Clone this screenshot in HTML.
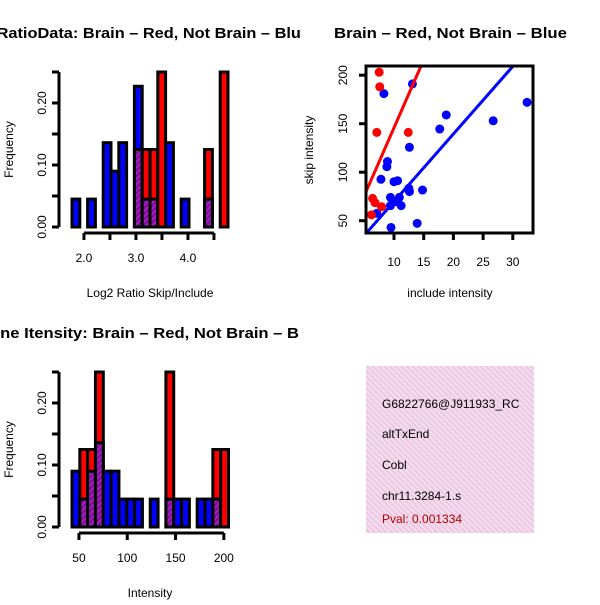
<!DOCTYPE html>
<html><head><meta charset="utf-8"><style>
body{margin:0;background:#fff}
svg text{font-family:"Liberation Sans",sans-serif}
</style></head><body>
<svg id="c" width="600" height="600" xmlns="http://www.w3.org/2000/svg">
<defs>
<pattern id="hatch" width="4" height="4" patternUnits="userSpaceOnUse" patternTransform="rotate(45)">
<rect width="4" height="4" fill="#a020c0"/><rect width="2" height="4" fill="#7a1090"/></pattern>
<pattern id="pink" width="4" height="4" patternUnits="userSpaceOnUse" patternTransform="rotate(-45)">
<rect width="4" height="4" fill="#f8d8f0"/><rect width="1.3" height="4" fill="#e0c8d8"/></pattern>
<clipPath id="left"><rect x="0" y="0" width="300" height="600"/></clipPath>
</defs>
<g id="g1"></g>
<g id="g2"></g>
<g id="g3"></g>
<g>
<rect x="366" y="366" width="168" height="167" fill="url(#pink)"/>
<svg x="366" y="366" width="168" height="167">
<text x="16" y="42" font-size="12">G6822766@J911933_RC</text>
<text x="16" y="72" font-size="12">altTxEnd</text>
<text x="16" y="103" font-size="12">Cobl</text>
<text x="16" y="134" font-size="12">chr11.3284-1.s</text>
<text x="16" y="157" font-size="12" fill="#b00000">Pval: 0.001334</text>
</svg></g>
</svg>
<script>
const NS="http://www.w3.org/2000/svg";
function mk(p,t,a){const e=document.createElementNS(NS,t);for(const k in a)e.setAttribute(k,a[k]);p.appendChild(e);return e;}

// histogram 1 data
const h1Start=1.77, h1Width=0.15;
const h1Blue=[0.045,0,0.045,0,0.136,0.09,0.136,0,0.227,0.045,0.045,0,0.136,0,0.045,0,0,0.045,0,0];
const h1Red =[0,0,0,0,0,0,0,0,0.125,0.125,0.125,0.25,0,0,0,0,0,0.125,0,0.25];
const h1XTicks=[2.0,2.5,3.0,3.5,4.0,4.5];
const h1XLabels=["2.0","","3.0","","4.0",""];
// histogram 3 data
const h3Start=42.8, h3Width=8.1;
const h3Blue=[0.09,0.045,0.09,0.136,0.09,0.09,0.045,0.045,0.045,0,0.045,0,0.045,0.045,0.045,0,0.045,0.045,0.045,0];
const h3Red =[0,0.125,0.125,0.25,0,0,0,0,0,0,0,0,0.25,0,0,0,0,0,0.125,0.125];
const h3XTicks=[50,100,150,200];
const h3XLabels=["50","100","150","200"];
const yTicks=[0,0.05,0.1,0.15,0.2,0.25];
const yLabels=["0.00","","0.10","","0.20",""];
// scatter data
const redX=[7.5,7.6,7.1,12.4,6.4,6.8,7.9,6.2];
const redY=[203,188,141,141,73,68.6,64.4,56];
const blueX=[8.3,13.1,32.4,26.7,18.8,17.7,12.6,8.9,8.8,7.8,10,10.6,12.6,14.8,12.5,9.4,10.9,10.3,11.2,9.4,7.1,13.9,9.5];
const blueY=[181,191,172,153,159,144.5,125.7,111,105.7,92.7,90.2,91.2,80,81.6,83.4,74,74,69.6,65.5,65.5,57.6,47.3,43];
const redFit=[5.8,14];   // intercept, slope
const blueFit=[0,6.97];
const sXTicks=[10,15,20,25,30];
const sYTicks=[50,100,150,200];

function hist(g,blue,red,start,w,x0,pxPerUnit,xt,xl,title,titleX,titleLen,xlab,xaxY,ty){
  const X=v=>x0+(v-start)*pxPerUnit;
  const Y=v=>ty.y0-v/0.25*ty.h;
  for(let i=0;i<blue.length;i++){
    const a=X(start+i*w),b=X(start+(i+1)*w),bl=blue[i],rd=red[i];
    const hi=Math.max(bl,rd),lo=Math.min(bl,rd);
    if(hi<=0)continue;
    const col=bl>=rd?'#0000ff':'#ff0000';
    let r=mk(g,'rect',{x:a,y:Y(hi),width:b-a,height:Y(0)-Y(hi),fill:col,stroke:'#000','stroke-width':3});
    
    
    if(lo>0){
      let p=mk(g,'rect',{x:a,y:Y(lo),width:b-a,height:Y(0)-Y(lo),fill:'url(#hatch)',stroke:'#000','stroke-width':3});
      
      
    }
  }
  let ya=mk(g,'line',{x1:59,x2:59,y1:Y(0),y2:Y(0.25),stroke:'#000','stroke-width':3});
  
  
  yTicks.forEach((t,i)=>{
    mk(g,'line',{x1:52,x2:59,y1:Y(t),y2:Y(t),stroke:'#000','stroke-width':3});
    if(yLabels[i]){let tx=mk(g,'text',{x:0,y:0,'font-size':12,'text-anchor':'middle',transform:`translate(46,${Y(t)}) rotate(-90)`});tx.textContent=yLabels[i];
    
    }
  });
  let yl=mk(g,'text',{'font-size':12,'text-anchor':'middle',transform:`translate(13,${ty.y0-ty.h/2}) rotate(-90)`});yl.textContent='Frequency';
  
  
  let xa=mk(g,'line',{x1:X(xt[0]),x2:X(xt[xt.length-1]),y1:xaxY,y2:xaxY,stroke:'#000','stroke-width':3});
  
  
  xt.forEach((t,i)=>{
    mk(g,'line',{x1:X(t),x2:X(t),y1:xaxY,y2:xaxY+7,stroke:'#000','stroke-width':3});
    if(xl[i]){let tx=mk(g,'text',{x:X(t),y:xaxY+29,'font-size':12,'text-anchor':'middle'});tx.textContent=xl[i];
    
    }
  });
  let xlb=mk(g,'text',{x:150,y:xaxY+64,'font-size':12,'text-anchor':'middle'});xlb.textContent=xlab;
  
  
  let cg=mk(g,'g',{'clip-path':'url(#left)'});
  let tt=mk(cg,'text',{x:titleX,y:ty.y0-189,'font-size':15,'font-weight':'bold',textLength:titleLen,lengthAdjust:'spacingAndGlyphs'});tt.textContent=title;
  
  
}
hist(document.getElementById('g1'),h1Blue,h1Red,h1Start,h1Width,72,52,h1XTicks,h1XLabels,'Log2 RatioData: Brain – Red, Not Brain – Blue',-47,357,'Log2 Ratio Skip/Include',233,{y0:227,h:155});
hist(document.getElementById('g3'),h3Blue,h3Red,h3Start,h3Width,72,0.966,h3XTicks,h3XLabels,'Gene Itensity: Brain – Red, Not Brain – Blue',-22,345,'Intensity',533,{y0:527,h:155});

(function(){
  const g=document.getElementById('g2');
  const L=366,R=533,T=66,B=233;
  const X=v=>394+(v-10)*5.94, Y=v=>220.7-(v-50)*0.97;
  const cp=mk(g,'clipPath',{id:'sc'});mk(cp,'rect',{x:L,y:T,width:R-L,height:B-T});
  const pg=mk(g,'g',{'clip-path':'url(#sc)'});
  blueX.forEach((x,i)=>{let c=mk(pg,'circle',{cx:X(x),cy:Y(blueY[i]),r:4.5,fill:'#0000ff'});
    
    });
  redX.forEach((x,i)=>{let c=mk(pg,'circle',{cx:X(x),cy:Y(redY[i]),r:4.5,fill:'#ff0000'});
    
    });
  [[redFit,'#ff0000','fit-line-brain'],[blueFit,'#0000ff','fit-line-not-brain']].forEach(([f,c,n])=>{
    const xa=5,xb=35;
    let l=mk(pg,'line',{x1:X(xa),y1:Y(f[0]+f[1]*xa),x2:X(xb),y2:Y(f[0]+f[1]*xb),stroke:c,'stroke-width':3});
    
    
  });
  let bx=mk(g,'rect',{x:L,y:T,width:R-L,height:B-T,fill:'none',stroke:'#000','stroke-width':3});
  
  
  sXTicks.forEach(t=>{mk(g,'line',{x1:X(t),x2:X(t),y1:B,y2:B+7,stroke:'#000','stroke-width':3});
    let tx=mk(g,'text',{x:X(t),y:B+33,'font-size':12,'text-anchor':'middle'});tx.textContent=t;
    
    });
  sYTicks.forEach(t=>{mk(g,'line',{x1:L-7,x2:L,y1:Y(t),y2:Y(t),stroke:'#000','stroke-width':3});
    let tx=mk(g,'text',{'font-size':12,'text-anchor':'middle',transform:`translate(347,${Y(t)}) rotate(-90)`});tx.textContent=t;
    
    });
  let xl=mk(g,'text',{x:450,y:297,'font-size':12,'text-anchor':'middle'});xl.textContent='include intensity';
  
  
  let yl=mk(g,'text',{'font-size':12,'text-anchor':'middle',transform:'translate(313,150) rotate(-90)'});yl.textContent='skip intensity';
  
  
  let tt=mk(g,'text',{x:334,y:38,'font-size':15,'font-weight':'bold',textLength:233,lengthAdjust:'spacingAndGlyphs'});tt.textContent='Brain – Red, Not Brain – Blue';
  
  
})();
</script>
</body></html>
